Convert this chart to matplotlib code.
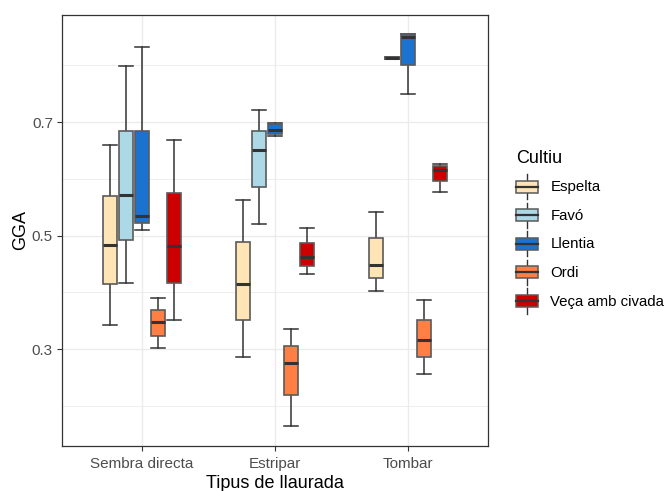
import matplotlib.pyplot as plt
from matplotlib.patches import Rectangle
from matplotlib.lines import Line2D
from matplotlib.legend_handler import HandlerBase

plt.rcParams['font.family'] = ['Liberation Sans', 'DejaVu Sans']

llaurades = ['Sembra directa', 'Estripar', 'Tombar']
cultius = ['Espelta', 'Favó', 'Llentia', 'Ordi', 'Veça amb civada']
colors = ['#FFE4B5', '#ADD8E6', '#1C72CF', '#FF7F45', '#CC0000']

# per llaurada, per cultiu: (whisker low, Q1, median, Q3, whisker high)
stats = {
    'Sembra directa': [
        (0.342, 0.414, 0.483, 0.570, 0.660),
        (0.416, 0.492, 0.571, 0.684, 0.799),
        (0.510, 0.522, 0.534, 0.684, 0.832),
        (0.301, 0.323, 0.347, 0.368, 0.390),
        (0.351, 0.416, 0.481, 0.575, 0.669),
    ],
    'Estripar': [
        (0.286, 0.351, 0.415, 0.488, 0.562),
        (0.521, 0.585, 0.651, 0.685, 0.722),
        (0.676, 0.679, 0.686, 0.696, 0.698),
        (0.164, 0.219, 0.275, 0.306, 0.336),
        (0.432, 0.447, 0.463, 0.487, 0.514),
    ],
    'Tombar': [
        (0.403, 0.425, 0.449, 0.495, 0.542),
        (0.811, 0.811, 0.813, 0.815, 0.815),
        (0.749, 0.801, 0.851, 0.855, 0.856),
        (0.256, 0.286, 0.316, 0.351, 0.386),
        (0.577, 0.596, 0.616, 0.622, 0.627),
    ],
}

fig = plt.figure(figsize=(6.67, 4.91), dpi=100)
ax = fig.add_axes([62/667, 1-446/491, (488-62)/667, (446-15)/491])

dodge = 0.12
bw = 0.108
for i, ll in enumerate(llaurades):
    for j, c in enumerate(cultius):
        lo, q1, med, q3, hi = stats[ll][j]
        pos = i + (j - 2) * dodge
        b = ax.bxp([dict(whislo=lo, q1=q1, med=med, q3=q3, whishi=hi, fliers=[])],
                   positions=[pos], widths=bw, capwidths=bw, patch_artist=True,
                   showfliers=False, manage_ticks=False,
                   boxprops=dict(facecolor=colors[j], edgecolor='#5a5a5a', linewidth=1.2),
                   whiskerprops=dict(color='#333333', linewidth=1.1),
                   capprops=dict(color='#333333', linewidth=1.1),
                   medianprops=dict(color='#333333', linewidth=2.2))
        for art in b['boxes'] + b['medians']:
            art.set_zorder(3)

ax.set_xlim(-0.6, 2.6)
ax.set_ylim(0.129, 0.889)
ax.set_xticks(range(3))
ax.set_xticklabels(llaurades)
ax.set_yticks([0.3, 0.5, 0.7])
ax.set_yticklabels(['0.3', '0.5', '0.7'])
ax.set_yticks([0.2, 0.4, 0.6, 0.8], minor=True)
ax.grid(True, which='major', color='#EBEBEB', linewidth=1.0, zorder=0)
ax.grid(True, which='minor', axis='y', color='#EBEBEB', linewidth=0.6, zorder=0)
ax.set_axisbelow(True)
ax.tick_params(which='major', length=3.5, width=0.8, color='#333333',
               labelcolor='#4D4D4D', labelsize=11, pad=3)
ax.tick_params(axis='x', pad=4.5)
ax.tick_params(which='minor', length=0)
for s in ax.spines.values():
    s.set_color('#333333')
    s.set_linewidth(0.9)
ax.set_xlabel('Tipus de llaurada', fontsize=13, labelpad=3)
ax.set_ylabel('GGA', fontsize=13, labelpad=2)


# legend key drawn like a small boxplot
class BoxHandler(HandlerBase):
    def create_artists(self, legend, orig_handle, xdescent, ydescent,
                       width, height, fontsize, trans):
        x0, y0 = -xdescent, -ydescent
        cx = x0 + width / 2
        wl = Line2D([cx, cx], [y0 + 0.06 * height, y0 + 0.94 * height],
                    color='#333333', linewidth=1.0, transform=trans)
        r = Rectangle((x0, y0 + 0.29 * height), width, 0.42 * height,
                      facecolor=orig_handle.get_facecolor(), edgecolor='#5a5a5a',
                      linewidth=1.1, transform=trans)
        m = Line2D([x0, x0 + width], [y0 + 0.5 * height] * 2,
                   color='#333333', linewidth=1.6, transform=trans)
        return [wl, r, m]


handles = [Rectangle((0, 0), 1, 1, facecolor=c) for c in colors]
leg = fig.legend(handles, cultius, loc='upper left',
                 bbox_to_anchor=(516/667, 1-150/491), frameon=False,
                 title='Cultiu', title_fontsize=13, fontsize=10.8,
                 handler_map={Rectangle: BoxHandler()},
                 handlelength=1.45, handleheight=2.55, labelspacing=0.0,
                 handletextpad=0.85, borderpad=0, borderaxespad=0,
                 alignment='left')
leg._legend_box.sep = 4

fig.savefig('out.png', dpi=100)
